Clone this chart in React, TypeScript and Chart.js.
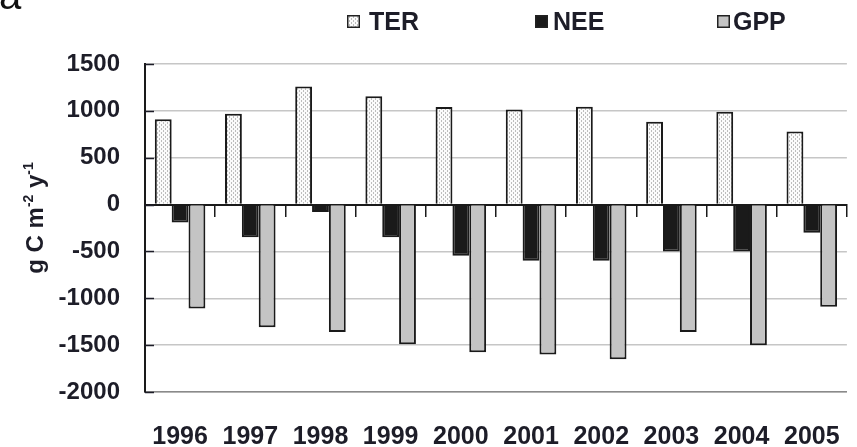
import { useEffect, useRef } from "react";
import { Chart, registerables } from "chart.js";

Chart.register(...registerables);

// Annual carbon fluxes (g C m-2 y-1)
const years = ["1996", "1997", "1998", "1999", "2000", "2001", "2002", "2003", "2004", "2005"];
const terValues = [910, 970, 1260, 1155, 1040, 1015, 1045, 885, 990, 780];
const neeValues = [-190, -350, -80, -350, -545, -600, -600, -500, -500, -300];
const gppValues = [-1110, -1310, -1360, -1490, -1575, -1600, -1650, -1360, -1500, -1090];
const seriesNames = ["TER", "NEE", "GPP"];

const yMin = -2000;
const yMax = 1500;
const yStep = 500;

const FONT = "'Liberation Sans', Arial, sans-serif";
const INK = "#1d1d28";

function stipplePattern(): CanvasPattern | string {
  const c = document.createElement("canvas");
  c.width = 4;
  c.height = 4;
  const g = c.getContext("2d");
  if (!g) return "#e8e8e8";
  g.fillStyle = "#fbfbfb";
  g.fillRect(0, 0, 4, 4);
  g.fillStyle = "#bdbdbd";
  g.fillRect(1, 0, 1, 2);
  g.fillRect(3, 2, 1, 2);
  return g.createPattern(c, "repeat") || "#e8e8e8";
}

// Panel letter, legend, rotated axis title and inward y ticks
const decorations = {
  id: "decorations",
  afterDraw(chart: any) {
    const ctx: CanvasRenderingContext2D = chart.ctx;
    const area = chart.chartArea;
    const yScale = chart.scales.y;

    ctx.save();

    // inward tick marks on the value axis
    ctx.strokeStyle = INK;
    ctx.lineWidth = 1.5;
    for (const t of yScale.ticks) {
      const py = Math.round(yScale.getPixelForValue(t.value)) + 0.5;
      ctx.beginPath();
      ctx.moveTo(area.left, py);
      ctx.lineTo(area.left + 9, py);
      ctx.stroke();
    }

    // panel letter
    ctx.fillStyle = "#111";
    ctx.font = `40px ${FONT}`;
    ctx.textBaseline = "alphabetic";
    ctx.textAlign = "left";
    ctx.fillText("a", -1, 9);

    // legend
    const boxX = [347, 535, 717];
    const textX = [369, 553, 733];
    ctx.font = `bold 25px ${FONT}`;
    ctx.textBaseline = "middle";
    chart.data.datasets.forEach((ds: any, i: number) => {
      const bx = boxX[i];
      const by = 15;
      const s = 13;
      ctx.fillStyle = ds.backgroundColor;
      ctx.fillRect(bx, by, s, s);
      ctx.strokeStyle = "#222";
      ctx.lineWidth = 1.5;
      ctx.strokeRect(bx + 0.75, by + 0.75, s - 1.5, s - 1.5);
      ctx.fillStyle = INK;
      ctx.fillText(ds.label, textX[i], 23);
    });

    // y axis title with superscripts, rotated
    const parts: [string, boolean][] = [
      ["g C m", false],
      ["-2", true],
      [" y", false],
      ["-1", true],
    ];
    const mainFont = `bold 24px ${FONT}`;
    const supFont = `bold 14px ${FONT}`;
    let total = 0;
    for (const [t, sup] of parts) {
      ctx.font = sup ? supFont : mainFont;
      total += ctx.measureText(t).width;
    }
    ctx.translate(43, 218);
    ctx.rotate(-Math.PI / 2);
    ctx.textBaseline = "alphabetic";
    ctx.fillStyle = INK;
    let x = -total / 2;
    for (const [t, sup] of parts) {
      ctx.font = sup ? supFont : mainFont;
      ctx.fillText(t, x, sup ? -10 : 0);
      x += ctx.measureText(t).width;
    }
    ctx.restore();
  },
};

export default function App() {
  const canvasRef = useRef<HTMLCanvasElement | null>(null);

  useEffect(() => {
    const canvas = canvasRef.current;
    if (!canvas) return;
    const stipple = stipplePattern();

    const chart = new Chart(canvas, {
      type: "bar",
      data: {
        labels: years,
        datasets: [
          { label: seriesNames[0], data: terValues, backgroundColor: stipple as any },
          { label: seriesNames[1], data: neeValues, backgroundColor: "#1a1a1a" },
          { label: seriesNames[2], data: gppValues, backgroundColor: "#c4c4c4" },
        ],
      },
      options: {
        responsive: false,
        animation: false,
        devicePixelRatio: 1,
        layout: { padding: { top: 64, right: 8, bottom: 0, left: 0 } },
        datasets: {
          bar: {
            categoryPercentage: 0.72,
            barPercentage: 1,
            borderWidth: 2,
            borderColor: "#1a1a1a",
          },
        },
        plugins: {
          legend: { display: false },
          tooltip: { enabled: false },
          title: { display: false },
        },
        scales: {
          x: {
            type: "category",
            position: "bottom",
            offset: true,
            grid: { display: false, drawTicks: false, offset: true },
            border: { display: true, color: "#8a8a8a", width: 1.5 },
            ticks: {
              color: INK,
              font: { family: FONT, size: 25, weight: "bold" },
              padding: 30,
              maxRotation: 0,
              autoSkip: false,
            },
            afterFit: (s: any) => {
              s.height = 55;
            },
          },
          x0: {
            type: "category",
            position: { y: 0 },
            offset: true,
            grid: {
              display: true,
              offset: true,
              drawOnChartArea: false,
              drawTicks: true,
              tickLength: 11,
              color: "#1a1a1a",
              lineWidth: 1.5,
            },
            border: { display: true, color: "#1a1a1a", width: 2 },
            ticks: { display: false },
          },
          y: {
            type: "linear",
            min: yMin,
            max: yMax,
            ticks: {
              stepSize: yStep,
              color: INK,
              font: { family: FONT, size: 24, weight: "bold" },
              padding: 25,
              callback: (v: any) => String(v),
            },
            grid: {
              drawTicks: false,
              color: (c: any) => (c.tick && c.tick.value === 0 ? "rgba(0,0,0,0)" : "#c6c6c6"),
              lineWidth: 1.5,
            },
            border: { display: true, color: "#1a1a1a", width: 2 },
            afterFit: (s: any) => {
              s.width = 145;
            },
          },
        },
      } as any,
      plugins: [decorations],
    });

    return () => {
      chart.destroy();
    };
  }, []);

  return (
    <div
      style={{
        position: "fixed",
        left: 0,
        top: 0,
        width: 857,
        height: 447,
        overflow: "hidden",
        background: "#fff",
      }}
    >
      <canvas ref={canvasRef} width={870} height={447} style={{ display: "block", width: 870, height: 447 }} />
    </div>
  );
}
